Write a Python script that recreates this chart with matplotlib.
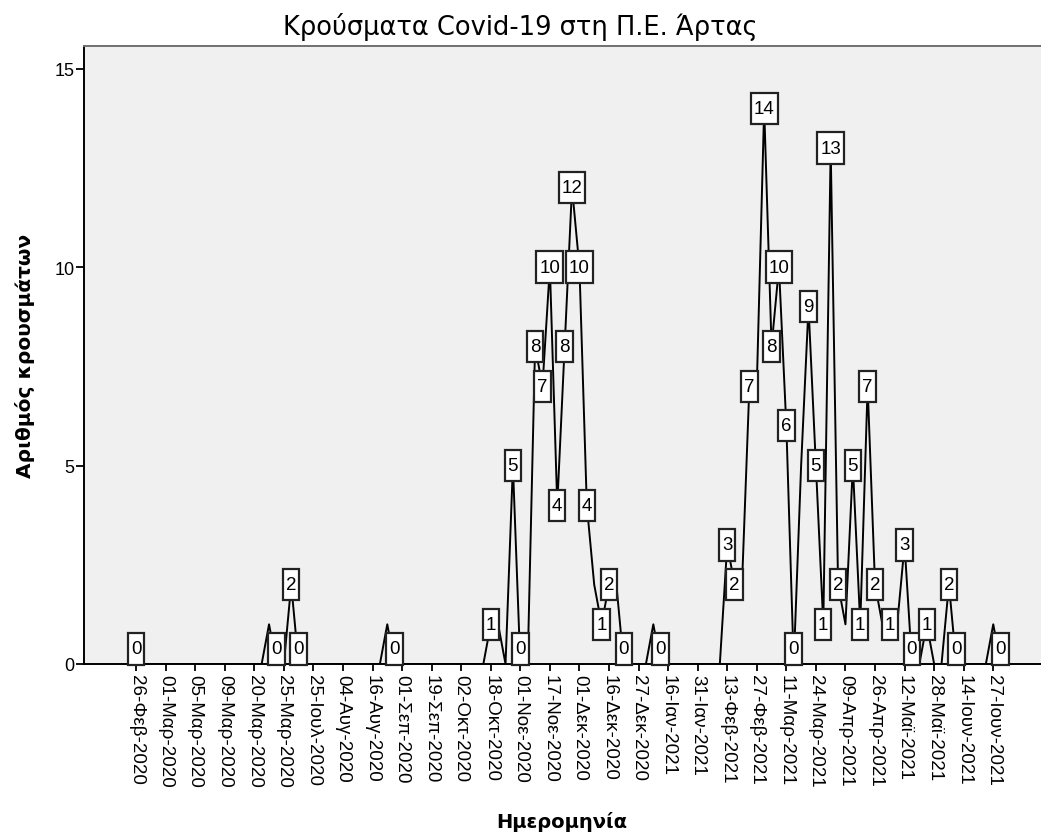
import matplotlib

matplotlib.use("Agg")
import matplotlib.pyplot as plt
import numpy as np
from matplotlib.path import Path

plt.rcParams["font.family"] = ["Liberation Sans", "DejaVu Sans"]

# daily cases, one value per reporting date (categorical x axis)
cases = [
    0, 0, 0, 0, 0, 0, 0, 0, 0, 0,
    0, 0, 0, 0, 0, 0, 0, 0, 1, 0,
    0, 2, 0, 0, 0, 0, 0, 0, 0, 0,
    0, 0, 0, 0, 1, 0, 0, 0, 0, 0,
    0, 0, 0, 0, 0, 0, 0, 0, 1, 1,
    0, 5, 0, 0, 8, 7, 10, 4, 8, 12,
    10, 4, 2, 1, 2, 2, 0, 0, 0, 0,
    1, 0, 0, 0, 0, 0, 0, 0, 0, 0,
    3, 2, 2, 7, 7, 14, 8, 10, 6, 0,
    5, 9, 5, 1, 13, 2, 1, 5, 1, 7,
    2, 1, 1, 1, 3, 0, 0, 1, 0, 0,
    2, 0, 0, 0, 0, 0, 1, 0,
]
# points whose value label is visible (the rest are hidden by overlap)
labelled = [0, 19, 21, 22, 35, 48, 51, 52, 54, 55, 56, 57, 58, 59, 60, 61,
            63, 64, 66, 71, 80, 81, 83, 85, 86, 87, 88, 89, 91, 92, 93, 94,
            95, 97, 98, 99, 100, 102, 104, 105, 107, 110, 111, 117]
# every 4th date is written under the axis
tick_dates = [
    "26-Φεβ-2020", "01-Μαρ-2020", "05-Μαρ-2020", "09-Μαρ-2020",
    "20-Μαρ-2020", "25-Μαρ-2020", "25-Ιουλ-2020", "04-Αυγ-2020",
    "16-Αυγ-2020", "01-Σεπ-2020", "19-Σεπ-2020", "02-Οκτ-2020",
    "18-Οκτ-2020", "01-Νοε-2020", "17-Νοε-2020", "01-Δεκ-2020",
    "16-Δεκ-2020", "27-Δεκ-2020", "16-Ιαν-2021", "31-Ιαν-2021",
    "13-Φεβ-2021", "27-Φεβ-2021", "11-Μαρ-2021", "24-Μαρ-2021",
    "09-Απρ-2021", "26-Απρ-2021", "12-Μαϊ-2021", "28-Μαϊ-2021",
    "14-Ιουν-2021", "27-Ιουν-2021",
]
TICK_STEP = 4


def tall_box(x0, y0, width, height, mutation_size):
    # SPSS-style label box: narrow side padding, tall top/bottom padding
    px, py = 0.16 * mutation_size, 0.38 * mutation_size
    x0, y0 = x0 - px, y0 - py
    x1, y1 = x0 + width + 2 * px, y0 + height + 2 * py
    return Path([(x0, y0), (x1, y0), (x1, y1), (x0, y1), (x0, y0)],
                [Path.MOVETO, Path.LINETO, Path.LINETO, Path.LINETO,
                 Path.CLOSEPOLY])


fig = plt.figure(figsize=(10.41, 8.37), dpi=100, facecolor="white")
ax = fig.add_axes([84 / 1041, 1 - 665 / 837, 1 - 84 / 1041, (665 - 47) / 837])
ax.set_facecolor("#f0f0f0")

x = np.arange(len(cases))
ax.plot(x, cases, color="black", lw=1.4, zorder=2)

for i in labelled:
    v = cases[i]
    lift = 15 if v == 0 else 0
    ax.annotate(str(v), (x[i], v), xytext=(0, lift), textcoords="offset pixels",
                ha="center", va="center", fontsize=13.5, zorder=3,
                bbox=dict(boxstyle=tall_box, fc="white", ec="#222222", lw=1.6))

ax.set_xlim(-7.04, 122.46)
ax.set_ylim(0, 15.57)
ax.set_xticks(x[::TICK_STEP][:len(tick_dates)])
ax.set_xticklabels(tick_dates, rotation=-90, ha="center", va="top")
ax.set_yticks([0, 5, 10, 15])
ax.tick_params(axis="x", length=5, width=1.3, labelsize=13.5, pad=2)
ax.tick_params(axis="y", length=6, width=1.3, labelsize=13, pad=1)

for side in ("left", "bottom"):
    ax.spines[side].set_color("black")
    ax.spines[side].set_linewidth(1.4)
ax.spines["top"].set_color("#707070")
ax.spines["top"].set_linewidth(1.4)
ax.spines["right"].set_visible(False)

ax.set_ylabel("Αριθμός κρουσμάτων", fontsize=14.5, fontweight="bold",
              labelpad=14, family="DejaVu Sans")
fig.text(562 / 1041, 1 - 822 / 837, "Ημερομηνία", ha="center", va="center",
         fontsize=14, fontweight="bold", family="DejaVu Sans")
fig.text(0.5, 1 - 27 / 837, "Κρούσματα Covid-19 στη Π.Ε. Άρτας",
         ha="center", va="center", fontsize=18.5, family="DejaVu Sans")

fig.savefig("out.png", dpi=100, facecolor=fig.get_facecolor())
